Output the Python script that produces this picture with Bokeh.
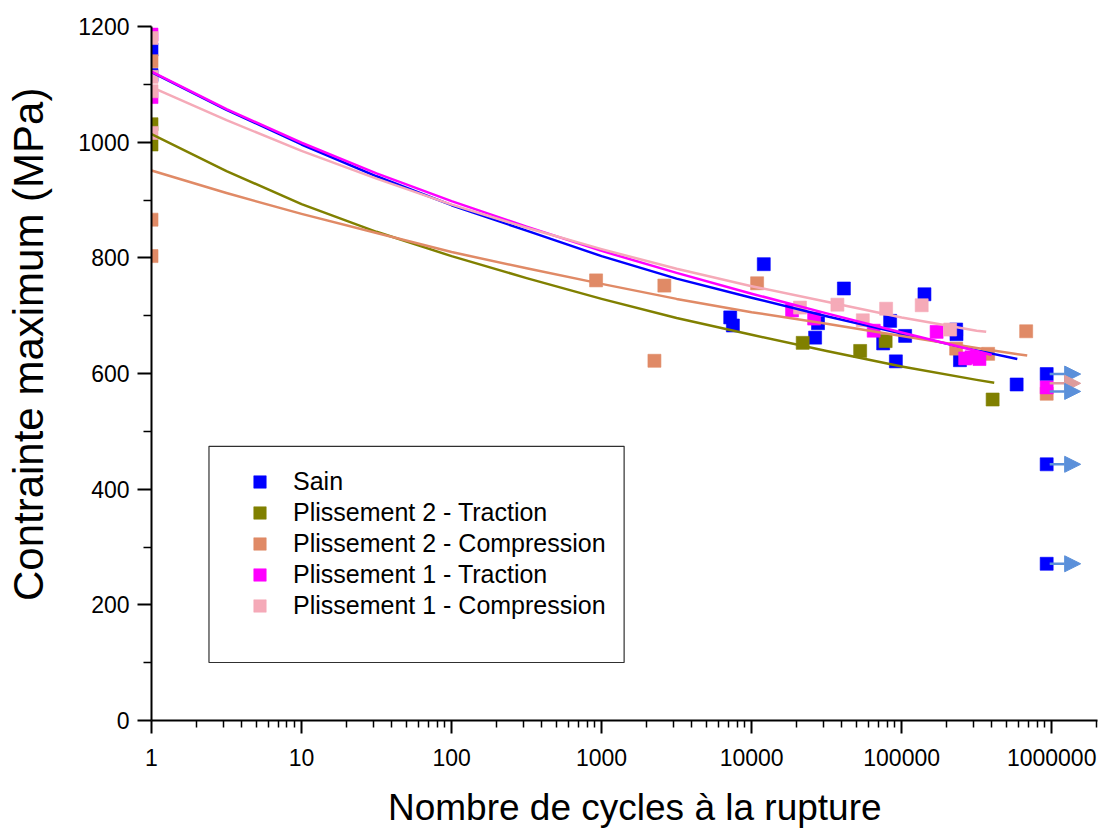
from bokeh.plotting import figure
from bokeh.models import Range1d, FixedTicker, Legend, LegendItem, Arrow, NormalHead, BoxAnnotation
from bokeh.embed import file_html
from bokeh.resources import INLINE

# ---------------- data ----------------
series_names = ["Sain", "Plissement 2 - Traction", "Plissement 2 - Compression",
                "Plissement 1 - Traction", "Plissement 1 - Compression"]
series_colors = ["#0000FF", "#808000", "#E08A66", "#FF00FF", "#F5AAB8"]

sain_n = [1, 1, 12050, 41200, 141900, 7200, 7500, 26500, 27700, 83800, 75300, 105500,
          91500, 230800, 232000, 244700, 584000, 926000, 926000, 926000]
sain_s = [1160, 1116, 789, 747, 737, 697, 683, 662, 687, 691, 652, 665,
          621, 676, 668, 623, 581, 599, 443, 271]

p2t_n = [1, 1, 21900, 52900, 78200, 404000]
p2t_s = [1031, 996, 653, 639, 656, 555]

p2c_n = [1, 1, 1, 919, 2620, 2250, 10880, 676000, 230800, 377000, 926000]
p2c_s = [1140, 866, 803, 761, 752, 622, 756, 673, 643, 634, 565]

p1t_n = [1, 1, 18600, 26100, 65100, 171000, 265000, 292000, 330000, 926000]
p1t_s = [1186, 1078, 709, 695, 674, 672, 626, 628, 625, 576]

p1c_n = [1, 1, 1, 1, 21000, 37300, 55100, 78800, 136000, 210500]
p1c_s = [1180, 1113, 1088, 1016, 714, 719, 692, 712, 718, 676]

# fitted curves (every half decade)
fit_n = [1, 3.162, 10, 31.62, 100, 316.2, 1000, 3162, 10000, 31623, 100000, 316228]
fit_sain_n = fit_n + [590000]
fit_sain_s = [1121, 1056, 996, 941, 891, 847, 803, 764, 731, 699, 669, 640, 625]
fit_p2t_n = fit_n + [414000]
fit_p2t_s = [1014, 950, 893, 845, 803, 765, 729, 696, 667, 639, 612, 589, 584]
fit_p2c_n = fit_n + [687000]
fit_p2c_s = [951, 912, 876, 843, 810, 782, 755, 729, 706, 686, 665, 644, 631]
fit_p1t_n = fit_n + [398000]
fit_p1t_s = [1122, 1057, 999, 946, 898, 854, 812, 774, 738, 704, 671, 639, 632]
fit_p1c_n = fit_n + [366000]
fit_p1c_s = [1095, 1038, 985, 937, 892, 852, 815, 781, 751, 724, 697, 674, 672]

# run-out arrows
arrow_s = [599, 583, 569, 443, 271]
arrow_colors = ["#5B90DA", "#DE9C9C", "#5B90DA", "#5B90DA", "#5B90DA"]
arrow_n_start = 970000
arrow_n_end = 1560000

x_ticks = [1, 10, 100, 1000, 10000, 100000, 1000000]
x_tick_labels = ["1", "10", "100", "1000", "10000", "100000", "1000000"]
y_ticks = [0, 200, 400, 600, 800, 1000, 1200]
y_minor = [100, 300, 500, 700, 900, 1100]

x_title = "Nombre de cycles à la rupture"
y_title = "Contrainte maximum (MPa)"

# ---------------- figure ----------------
FONT = "Liberation Sans"
NBSP = "\u00a0"
p = figure(width=1107, height=832, x_axis_type="log",
           x_range=Range1d(1, 2.02e6), y_range=Range1d(0, 1200),
           output_backend="svg", toolbar_location=None,
           min_border_left=151, min_border_right=10, min_border_top=26, min_border_bottom=112)
p.grid.visible = False
p.outline_line_color = None
p.background_fill_color = "white"
p.border_fill_color = "white"

x_minor = [m * d for d in x_ticks for m in range(2, 10)]
p.xaxis.ticker = FixedTicker(ticks=x_ticks, minor_ticks=x_minor)
p.xaxis.major_label_overrides = {int(t): l for t, l in zip(x_ticks, x_tick_labels)}
p.yaxis.ticker = FixedTicker(ticks=y_ticks, minor_ticks=y_minor)

for ax in (p.xaxis[0], p.yaxis[0]):
    ax.axis_line_width = 2
    ax.axis_line_color = "black"
    ax.major_tick_line_width = 2
    ax.minor_tick_line_width = 1.5
    ax.major_tick_in = 0
    ax.minor_tick_in = 0
    ax.major_label_text_font = FONT
    ax.major_label_text_font_size = "23px"
    ax.major_label_text_color = "black"
    ax.axis_label_text_font = FONT
    ax.axis_label_text_font_style = "normal"
    ax.axis_label_text_color = "black"

p.xaxis.major_tick_out = 13
p.xaxis.minor_tick_out = 7
p.yaxis.major_tick_out = 14
p.yaxis.minor_tick_out = 8
p.xaxis.major_label_standoff = 15
p.yaxis.major_label_standoff = 8

# axis titles (leading no-break spaces shift them off-centre as in the original)
p.xaxis.axis_label = NBSP * 2 + x_title
p.yaxis.axis_label = NBSP * 5 + y_title
p.xaxis.axis_label_text_font_size = "37px"
p.yaxis.axis_label_text_font_size = "42px"
p.xaxis.axis_label_standoff = 18
p.yaxis.axis_label_standoff = 23

# points
all_n = [sain_n, p2t_n, p2c_n, p1t_n, p1c_n]
all_s = [sain_s, p2t_s, p2c_s, p1t_s, p1c_s]
renderers = []
for n, s, c in zip(all_n, all_s, series_colors):
    r = p.scatter(n, s, marker="square", size=13, fill_color=c, line_color=c, line_alpha=0.6)
    renderers.append(r)

# fit lines
fits = [(fit_sain_n, fit_sain_s), (fit_p2t_n, fit_p2t_s), (fit_p2c_n, fit_p2c_s),
        (fit_p1t_n, fit_p1t_s), (fit_p1c_n, fit_p1c_s)]
for (n, s), c in zip(fits, series_colors):
    p.line(n, s, line_color=c, line_width=2.5, line_join="round")

# arrows
for s, c in zip(arrow_s, arrow_colors):
    p.add_layout(Arrow(end=NormalHead(size=16, fill_color=c, line_color=c, line_width=1),
                       x_start=arrow_n_start, y_start=s, x_end=arrow_n_end, y_end=s,
                       line_color=c, line_width=2.5))

# legend frame and legend
p.add_layout(BoxAnnotation(left=2.416, right=1413, top=474, bottom=100.3,
                           fill_alpha=0, line_color="#303030", line_alpha=1.0, line_width=1.2))
legend = Legend(items=[LegendItem(label=nm, renderers=[r]) for nm, r in zip(series_names, renderers)],
                location=(92, 99), glyph_width=33, glyph_height=31, label_height=31,
                spacing=0, padding=0, margin=0, label_standoff=17,
                label_text_font=FONT, label_text_font_size="25px", label_text_color="black",
                border_line_alpha=0, background_fill_alpha=0)
p.add_layout(legend)

open("out.html", "w").write(file_html(p, INLINE))
